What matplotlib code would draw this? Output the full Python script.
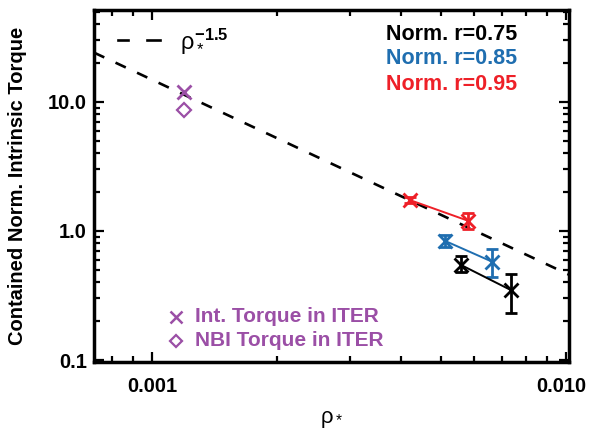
import numpy as np
import matplotlib
matplotlib.use("Agg")
import matplotlib.pyplot as plt
import matplotlib.transforms as mtransforms
from matplotlib.ticker import FixedLocator, LogLocator, NullFormatter

plt.rcParams['font.family'] = ['Liberation Sans', 'DejaVu Sans']
plt.rcParams['mathtext.fontset'] = 'custom'
plt.rcParams['mathtext.rm'] = 'Liberation Sans'
plt.rcParams['mathtext.it'] = 'Liberation Sans'
plt.rcParams['mathtext.bf'] = 'Liberation Sans:bold'

# data
r75_x = [0.00558, 0.00735]
r75_y = [0.545, 0.349]
r75_lo = [0.484, 0.233]
r75_hi = [0.640, 0.464]

r85_x = [0.00509, 0.00663]
r85_y = [0.841, 0.578]
r85_lo = [0.756, 0.442]
r85_hi = [0.931, 0.725]

r95_x = [0.00419, 0.00580]
r95_y = [1.74, 1.20]
r95_lo = [1.64, 1.03]
r95_hi = [1.845, 1.386]

iter_rho = 0.001195
iter_int_torque = 11.9
iter_nbi_torque = 8.67

scaling_coef = 4.7e-4
scaling_exp = -1.5

colors = {'0.75': 'black', '0.85': '#1f6eb0', '0.95': '#ee2028'}
purple = '#9b4fa6'

W, H = 589, 430
fig = plt.figure(figsize=(W / 100, H / 100), dpi=100)
ax = fig.add_axes([94/W, 1-362/H, (569-94)/W, (362-10)/H])
ax.set_xscale('log')
ax.set_yscale('log')
ax.set_xlim(0.000724, 0.01017)
ax.set_ylim(0.0965, 51.6)

xs = np.logspace(np.log10(0.000724), np.log10(0.01017), 50)
ax.plot(xs, scaling_coef * xs**scaling_exp, 'k', ls=(0, (4.3, 4.7)), lw=1.9)

for key, x, y, lo, hi in [('0.75', r75_x, r75_y, r75_lo, r75_hi),
                          ('0.85', r85_x, r85_y, r85_lo, r85_hi),
                          ('0.95', r95_x, r95_y, r95_lo, r95_hi)]:
    c = colors[key]
    y = np.array(y)
    yerr = [y - np.array(lo), np.array(hi) - y]
    ax.errorbar(x, y, yerr=yerr, color=c, marker='x', ms=10, mew=2,
                lw=1.4, elinewidth=2, capsize=4, capthick=2)

ax.plot([iter_rho], [iter_int_torque], 'x', color=purple, ms=10, mew=2)
ax.plot([iter_rho], [iter_nbi_torque], 'D', color=purple, ms=7, mfc='none', mew=1.6)

# scaling-law key
for x0, x1 in [(118, 128), (147, 160)]:
    fig.add_artist(plt.Line2D([x0/W, x1/W], [1-40/H, 1-40/H], color='k', lw=1.9))
fig.text(180/W, 1-41/H, r'$\rho_*^{\mathbf{-1.5}}$', fontsize=17, va='center', ha='left')

for i, key in enumerate(['0.75', '0.85', '0.95']):
    fig.text(517/W, 1-(34+25*i)/H, 'Norm. r=' + key, color=colors[key],
             fontsize=15.5, fontweight='bold', ha='right', va='center')

# ITER key
fig.add_artist(plt.Line2D([176/W], [1-317/H], marker='x', color=purple, ms=8, mew=1.8))
fig.add_artist(plt.Line2D([176/W], [1-341/H], marker='D', color=purple, ms=6,
                          mfc='none', mew=1.6))
fig.text(195/W, 1-317/H, 'Int. Torque in ITER', color=purple, fontsize=15,
         fontweight='bold', va='center')
fig.text(195/W, 1-341/H, 'NBI Torque in ITER', color=purple, fontsize=15,
         fontweight='bold', va='center')

ax.xaxis.set_major_locator(FixedLocator([0.001, 0.01]))
ax.set_xticklabels(['0.001', '0.010'])
ax.yaxis.set_major_locator(FixedLocator([0.1, 1.0, 10.0]))
ax.set_yticklabels(['0.1', '1.0', '10.0'])
ax.xaxis.set_minor_locator(LogLocator(base=10, subs=np.arange(2, 10)))
ax.yaxis.set_minor_locator(LogLocator(base=10, subs=np.arange(2, 10)))
ax.xaxis.set_minor_formatter(NullFormatter())
ax.yaxis.set_minor_formatter(NullFormatter())

ax.tick_params(which='both', direction='in', top=True, right=True, width=1.6)
ax.tick_params(which='major', length=7.5, labelsize=14.5)
ax.tick_params(axis='x', which='major', pad=11)
ax.tick_params(axis='y', which='major', pad=5)
ax.tick_params(which='minor', length=4)
for lab in ax.get_xticklabels() + ax.get_yticklabels():
    lab.set_fontweight('bold')
last = ax.get_xticklabels()[-1]
last.set_transform(last.get_transform() +
                   mtransforms.ScaledTranslation(-5/100, 0, fig.dpi_scale_trans))
for s in ax.spines.values():
    s.set_linewidth(2.5)

ax.set_ylabel('Contained Norm. Intrinsic Torque', fontsize=14.5, fontweight='bold', labelpad=15)
ax.set_xlabel(r'$\rho_*$', fontsize=16, labelpad=9)

fig.savefig('out.png', dpi=100)
